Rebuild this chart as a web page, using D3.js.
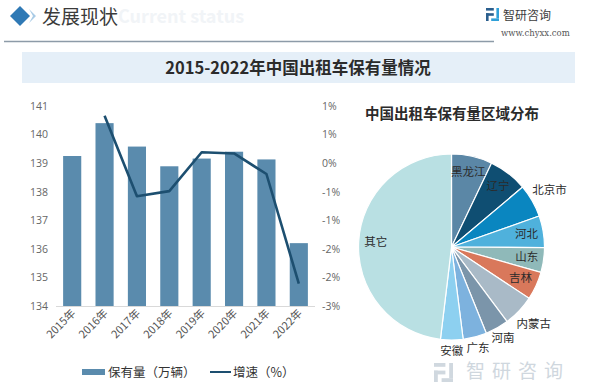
<!DOCTYPE html>
<html>
<head>
<meta charset="utf-8">
<script src="https://cdn.jsdelivr.net/npm/d3@7/dist/d3.min.js"></script>
<style>
  body { margin: 0; background: #fff; }
  svg { display: block; font-family: "Noto Sans CJK SC", "Noto Sans", sans-serif; }
</style>
</head>
<body>
<svg class="chart"></svg>
<script>
// data
var years = ["2015年", "2016年", "2017年", "2018年", "2019年", "2020年", "2021年", "2022年"];
var stock = [139.25, 140.40, 139.58, 138.89, 139.16, 139.40, 139.13, 136.20];   // 万辆
var growthYears = ["2016年", "2017年", "2018年", "2019年", "2020年", "2021年", "2022年"];
var growth = [0.83, -0.58, -0.49, 0.19, 0.17, -0.19, -2.11];                    // %
var leftTicks = [134, 135, 136, 137, 138, 139, 140, 141];
var rightTicks = [-2.5, -2, -1.5, -1, -0.5, 0, 0.5, 1];

var regions = ["黑龙江", "辽宁", "北京市", "河北", "山东", "吉林", "内蒙古", "河南", "广东", "安徽", "其它"];
var shares = [7.1, 6.75, 5.75, 5.5, 4.3, 4.9, 5.5, 4.1, 4.1, 3.9, 48.1];
var regionColors = ["#5b87a6", "#0f4e72", "#0a86c0", "#4fb1dc", "#8fb9b9", "#d9785b",
                    "#a9bac7", "#7b95aa", "#7db2de", "#8dd0f0", "#b9e0e3"];
var outsideLabels = ["北京市", "内蒙古", "河南", "广东", "安徽"];

var W = 600, H = 385;
var svg = d3.select(".chart").attr("width", W).attr("height", H);

// ---------- header ----------
svg.append("path")
    .attr("d", "M20,6 L30,16 L20,26 L10,16 Z")
    .attr("fill", "#2f79b5");
svg.append("path")
    .attr("d", "M29,9 L36,16 L29,23 L33,16 Z")
    .attr("fill", "#a9cbe6");
svg.append("text")
    .attr("x", 118).attr("y", 23)
    .attr("font-size", 18).attr("font-weight", "bold")
    .attr("fill", "#f1f4f7")
    .text("Current status");
svg.append("text")
    .attr("x", 42).attr("y", 24)
    .attr("font-size", 19)
    .attr("fill", "#3a3a3a")
    .text("发展现状");
svg.append("line")
    .attr("x1", 4).attr("x2", 494).attr("y1", 41.5).attr("y2", 41.5)
    .attr("stroke", "#8d9ba8").attr("stroke-width", 1.5);

function logo(g, x, y, s, c1, c2) {
    g.append("rect").attr("x", x).attr("y", y).attr("width", 6 * s).attr("height", 2 * s).attr("fill", c1);
    g.append("rect").attr("x", x).attr("y", y + 4 * s).attr("width", 6 * s).attr("height", 2 * s).attr("fill", c1);
    g.append("rect").attr("x", x).attr("y", y + 4 * s).attr("width", 2 * s).attr("height", 6 * s).attr("fill", c1);
    g.append("rect").attr("x", x + 8 * s).attr("y", y).attr("width", 2 * s).attr("height", 8 * s).attr("fill", c2);
    g.append("rect").attr("x", x + 4 * s).attr("y", y + 8 * s).attr("width", 6 * s).attr("height", 2 * s).attr("fill", c2);
}
logo(svg, 486, 8, 1.3, "#2b5f8e", "#2fa0d8");
svg.append("text")
    .attr("x", 503).attr("y", 20)
    .attr("font-size", 12).attr("fill", "#3d3d3d")
    .text("智研咨询");
svg.append("text")
    .attr("x", 501).attr("y", 36)
    .attr("font-size", 8.5).attr("font-family", "DejaVu Serif")
    .attr("fill", "#555")
    .text("www.chyxx.com");

// ---------- title band ----------
svg.append("rect")
    .attr("x", 22).attr("y", 52).attr("width", 553).attr("height", 31)
    .attr("fill", "#e5eff8");
svg.append("text")
    .attr("x", 298).attr("y", 74)
    .attr("text-anchor", "middle")
    .attr("font-size", 16.5).attr("font-weight", "bold")
    .attr("fill", "#2b2b2b")
    .text("2015-2022年中国出租车保有量情况");

// ---------- combo chart ----------
var x = d3.scaleBand().domain(years).range([56, 315]).paddingInner(0.44).paddingOuter(0.22);
var yL = d3.scaleLinear().domain([134, 141]).range([306, 106]);
var yR = d3.scaleLinear().domain([-2.5, 1]).range([306, 106]);

function pct(d) {
    var r = Math.sign(d) * Math.round(Math.abs(d));
    return (r === 0 ? 0 : r) + "%";
}

var axL = svg.append("g")
    .attr("transform", "translate(48,0)")
    .call(d3.axisLeft(yL).tickValues(leftTicks).tickSize(0).tickPadding(0).tickFormat(d3.format("d")));
var axR = svg.append("g")
    .attr("transform", "translate(322,0)")
    .call(d3.axisRight(yR).tickValues(rightTicks).tickSize(0).tickPadding(0).tickFormat(pct));
[axL, axR].forEach(function (a) {
    a.select(".domain").remove();
    a.selectAll("text").attr("font-size", 10.5).attr("fill", "#666")
        .attr("font-family", "Open Sans, Noto Sans, sans-serif");
});

svg.append("line")
    .attr("x1", 56).attr("x2", 315).attr("y1", 306.5).attr("y2", 306.5)
    .attr("stroke", "#d9d9d9");

svg.selectAll(".bar")
    .data(stock)
    .enter().append("rect")
    .attr("class", "bar")
    .attr("x", function (d, i) { return x(years[i]); })
    .attr("width", x.bandwidth())
    .attr("y", function (d) { return yL(d); })
    .attr("height", function (d) { return yL(134) - yL(d); })
    .attr("fill", "#5a8bad");

var line = d3.line()
    .x(function (d, i) { return x(growthYears[i]) + x.bandwidth() / 2; })
    .y(function (d) { return yR(d); });
svg.append("path")
    .datum(growth)
    .attr("d", line)
    .attr("fill", "none")
    .attr("stroke", "#1d4f70")
    .attr("stroke-width", 2.6)
    .attr("stroke-linejoin", "round");

svg.append("g").selectAll("text")
    .data(years)
    .enter().append("text")
    .attr("transform", function (d) {
        return "translate(" + (x(d) + x.bandwidth() / 2 + 4) + ",314) rotate(-45)";
    })
    .attr("text-anchor", "end")
    .attr("font-size", 11).attr("fill", "#555")
    .text(function (d) { return d; });

// legend
svg.append("rect").attr("x", 82).attr("y", 369).attr("width", 23).attr("height", 6).attr("fill", "#5a8bad");
svg.append("text").attr("x", 108).attr("y", 377).attr("font-size", 12.5).attr("fill", "#333").text("保有量（万辆）");
svg.append("line").attr("x1", 210).attr("x2", 231).attr("y1", 372).attr("y2", 372)
    .attr("stroke", "#1d4f70").attr("stroke-width", 2);
svg.append("text").attr("x", 233).attr("y", 377).attr("font-size", 12.5).attr("fill", "#333").text("增速（%）");

// bottom-right watermark logo (drawn under the pie labels)
logo(svg, 434, 363, 1.9, "#d0d8df", "#d0d8df");
svg.append("text")
    .attr("x", 466).attr("y", 378)
    .attr("font-size", 19).attr("fill", "#cfd7de")
    .attr("letter-spacing", 7)
    .text("智研咨询");

// ---------- pie ----------
svg.append("text")
    .attr("x", 452).attr("y", 119)
    .attr("text-anchor", "middle")
    .attr("font-size", 14.5).attr("font-weight", "bold")
    .attr("fill", "#2b2b2b")
    .text("中国出租车保有量区域分布");

var R = 93;
var pie = d3.pie().sort(null).value(function (d) { return d; });
var arc = d3.arc().innerRadius(0).outerRadius(R);
var arcs = pie(shares);
var pg = svg.append("g").attr("transform", "translate(451.5,247)");

pg.selectAll("path")
    .data(arcs)
    .enter().append("path")
    .attr("d", arc)
    .attr("fill", function (d, i) { return regionColors[i]; })
    .attr("stroke", "#fff").attr("stroke-width", 1.2);

// label radius: inside, outside on the right side, outside at the bottom
function labelRadius(d) {
    var name = regions[d.index];
    if (outsideLabels.indexOf(name) < 0) return 76;
    var mid = (d.startAngle + d.endAngle) / 2;
    return mid < 2.4 ? 113 : 105;
}
pg.selectAll(".lbl")
    .data(arcs)
    .enter().append("text")
    .attr("class", "lbl")
    .attr("transform", function (d) {
        var r = labelRadius(d);
        return "translate(" + d3.arc().innerRadius(r).outerRadius(r).centroid(d) + ")";
    })
    .attr("dy", "0.3em")
    .attr("text-anchor", "middle")
    .attr("font-size", 11.5).attr("fill", "#2b2b2b")
    .text(function (d, i) { return regions[i]; });
</script>
</body>
</html>
